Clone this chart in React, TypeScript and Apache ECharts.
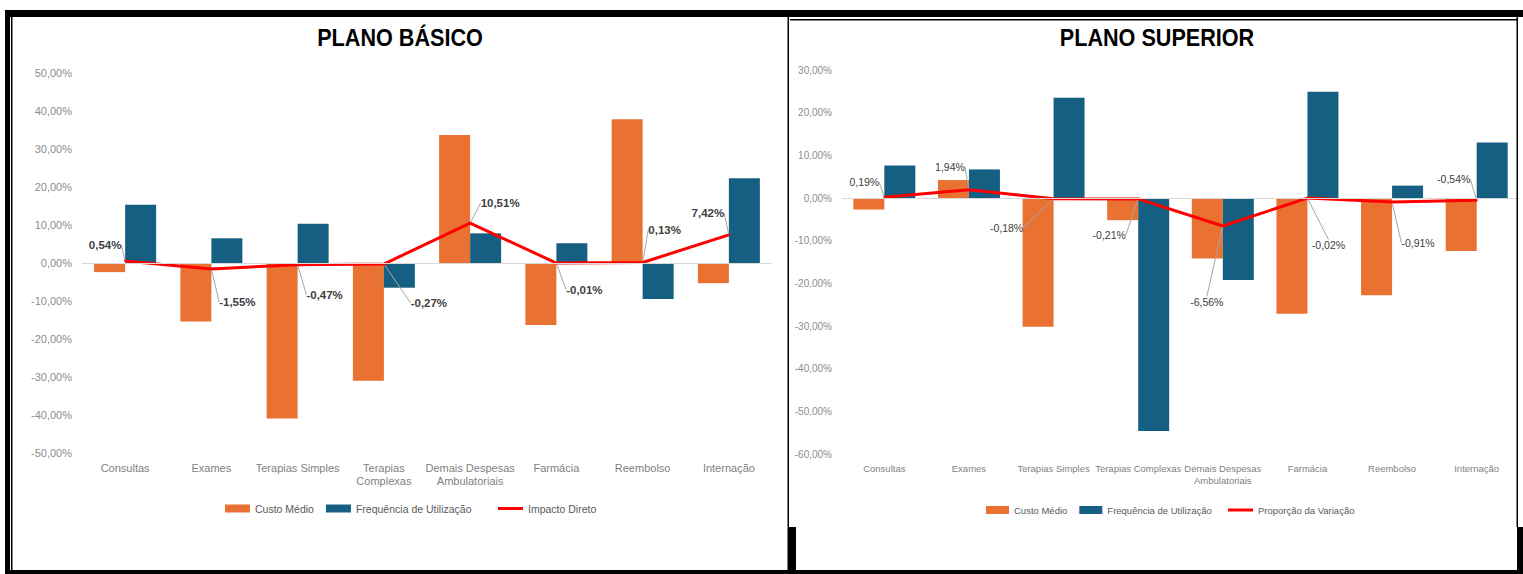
import React, { useEffect, useRef } from 'react';
import * as echarts from 'echarts';

// ---------- data ----------
const categoriesBasico = [
  'Consultas', 'Exames', 'Terapias Simples', 'Terapias\nComplexas',
  'Demais Despesas\nAmbulatoriais', 'Farmácia', 'Reembolso', 'Internação',
];
const categoriesSuperior = [
  'Consultas', 'Exames', 'Terapias Simples', 'Terapias Complexas',
  'Demais Despesas\nAmbulatoriais', 'Farmácia', 'Reembolso', 'Internação',
];

const basicoCustoMedio = [-2.4, -15.4, -40.9, -31.0, 33.7, -16.3, 37.8, -5.3];
const basicoFrequencia = [15.3, 6.5, 10.3, -6.5, 7.8, 5.2, -9.5, 22.3];
const basicoImpacto = [0.54, -1.55, -0.47, -0.27, 10.51, -0.01, 0.13, 7.42];

const superiorCustoMedio = [-2.7, 4.2, -30.2, -5.2, -14.2, -27.1, -22.8, -12.4];
const superiorFrequencia = [7.6, 6.7, 23.5, -54.6, -19.2, 24.9, 2.9, 13.0];
const superiorProporcao = [0.19, 1.94, -0.18, -0.21, -6.56, -0.02, -0.91, -0.54];

const seriesNames = ['Custo Médio', 'Frequência de Utilização'];
const lineNameBasico = 'Impacto Direto';
const lineNameSuperior = 'Proporção da Variação';

const yRangeBasico = { min: -50, max: 50, interval: 10 };
const yRangeSuperior = { min: -60, max: 30, interval: 10 };

// ---------- layout (label offsets from point, px) ----------
const labelOffsetsBasico = [
  [-20, -16], [26, 33], [27, 30], [45, 39], [30, -20], [28, 27], [22, -33], [-21, -22],
];
const labelOffsetsSuperior = [
  [-20, -15], [-19, -23], [-47, 29], [-29, 36], [-16, 76], [21, 47], [26, 41], [-23, -21],
];

const ORANGE = '#E97132';
const BLUE = '#156082';
const RED = '#FF0000';
const NARROW = "'Liberation Sans Narrow', 'Arial Narrow', 'Liberation Sans', Arial, sans-serif";
const SANS = "'Liberation Sans', Arial, sans-serif";

const fmt = (v: number) => v.toFixed(2).replace('.', ',') + '%';

function App() {
  const ref = useRef<HTMLDivElement>(null);

  useEffect(() => {
    if (!ref.current) return;
    const chart = echarts.init(ref.current, undefined, { renderer: 'svg' });

    const mkX = (gridIndex: number, cats: string[], fontSize: number, margin: number) => ({
      type: 'category',
      gridIndex,
      data: cats,
      axisLine: { show: false, onZero: false },
      axisTick: { show: false },
      axisLabel: {
        interval: 0,
        color: '#7f7f7f',
        fontFamily: SANS,
        fontSize,
        lineHeight: fontSize + 2.5,
        margin,
      },
      splitLine: { show: false },
    });

    const mkY = (gridIndex: number, r: any, fontSize: number) => ({
      type: 'value',
      gridIndex,
      min: r.min,
      max: r.max,
      interval: r.interval,
      axisLine: { show: false },
      axisTick: { show: false },
      splitLine: { show: false },
      axisLabel: {
        color: '#8c8c8c',
        fontFamily: SANS,
        fontSize,
        margin: 10,
        formatter: (v: number) => fmt(v),
      },
    });

    const zeroLine = {
      silent: true,
      symbol: 'none',
      label: { show: false },
      lineStyle: { color: '#d9d9d9', width: 1, type: 'solid' },
      data: [{ yAxis: 0 }],
    };

    const mkBars = (idx: number, custo: number[], freq: number[]) => [
      {
        name: seriesNames[0],
        type: 'bar',
        xAxisIndex: idx,
        yAxisIndex: idx,
        data: custo,
        barWidth: 31,
        barGap: '0%',
        itemStyle: { color: ORANGE },
        markLine: zeroLine,
        z: 2,
      },
      {
        name: seriesNames[1],
        type: 'bar',
        xAxisIndex: idx,
        yAxisIndex: idx,
        data: freq,
        barWidth: 31,
        barGap: '0%',
        itemStyle: { color: BLUE },
        z: 2,
      },
    ];

    const mkLine = (idx: number, name: string, data: number[], offsets: number[][], fontSize: number, weight: string) => ({
      name,
      type: 'line',
      xAxisIndex: idx,
      yAxisIndex: idx,
      data,
      symbol: 'circle',
      symbolSize: 2,
      itemStyle: { color: RED },
      lineStyle: { color: RED, width: 3 },
      z: 4,
      label: {
        show: true,
        position: 'inside',
        formatter: (p: any) => fmt(p.value),
        fontFamily: NARROW,
        fontWeight: weight,
        fontSize,
        color: '#404040',
      },
      labelLine: { show: true, lineStyle: { color: '#a6a6a6', width: 1 } },
      labelLayout: (p: any) => ({ dx: offsets[p.dataIndex][0], dy: offsets[p.dataIndex][1] }),
    });

    const legendText = { color: '#595959', fontFamily: SANS, fontSize: 11 };

    const border = (x: number, y: number, w: number, h: number) => ({
      type: 'rect',
      shape: { x, y, width: w, height: h },
      style: { fill: '#000' },
      silent: true,
      z: 100,
    });

    chart.setOption({
      animation: false,
      backgroundColor: '#ffffff',
      grid: [
        { left: 82, right: 751, top: 73, bottom: 121 },
        { left: 842, right: 4, top: 70, bottom: 120 },
      ],
      xAxis: [mkX(0, categoriesBasico, 11, 8), mkX(1, categoriesSuperior, 9.5, 8)],
      yAxis: [mkY(0, yRangeBasico, 11), mkY(1, yRangeSuperior, 10)],
      legend: [
        {
          data: seriesNames, left: 220, top: 498, icon: 'rect', itemWidth: 25, itemHeight: 8,
          itemGap: 12, textStyle: { ...legendText, fontSize: 10.5 }, selectedMode: false,
        },
        {
          data: [lineNameBasico], left: 493, top: 498, icon: 'rect', itemWidth: 25, itemHeight: 3,
          itemGap: 12, textStyle: { ...legendText, fontSize: 10.5 }, selectedMode: false,
        },
        {
          data: seriesNames, left: 981, top: 500, icon: 'rect', itemWidth: 23, itemHeight: 8,
          itemGap: 12, textStyle: { ...legendText, fontSize: 9.5 }, selectedMode: false,
        },
        {
          data: [lineNameSuperior], left: 1223, top: 500, icon: 'rect', itemWidth: 25, itemHeight: 3,
          itemGap: 12, textStyle: { ...legendText, fontSize: 9.5 }, selectedMode: false,
        },
      ],
      series: [
        ...mkBars(0, basicoCustoMedio, basicoFrequencia),
        mkLine(0, lineNameBasico, basicoImpacto, labelOffsetsBasico, 11.5, 'bold'),
        ...mkBars(1, superiorCustoMedio, superiorFrequencia),
        mkLine(1, lineNameSuperior, superiorProporcao, labelOffsetsSuperior, 10.5, 'normal'),
      ],
      graphic: [
        {
          type: 'text', x: 400, y: 38, scaleX: 0.9, silent: true,
          style: {
            text: 'PLANO BÁSICO', fill: '#000', fontFamily: NARROW, fontWeight: 'bold', fontSize: 24,
            textAlign: 'center', textVerticalAlign: 'middle',
          },
        },
        {
          type: 'text', x: 1157, y: 38, scaleX: 0.9, silent: true,
          style: {
            text: 'PLANO SUPERIOR', fill: '#000', fontFamily: NARROW, fontWeight: 'bold', fontSize: 24,
            textAlign: 'center', textVerticalAlign: 'middle',
          },
        },
        border(5, 10, 1518, 7),
        border(5, 10, 5, 564),
        border(11, 17, 1.5, 557),
        border(5, 570, 787, 4),
        border(787.5, 17, 1.5, 557),
        border(788, 527, 8, 47),
        border(790, 19, 727, 1.5),
        border(1516.5, 17, 1.5, 510),
        border(1517, 527, 6, 47),
        border(788, 570, 735, 4),
      ],
    });

    return () => chart.dispose();
  }, []);

  return (
    <div
      ref={ref}
      style={{ position: 'fixed', left: 0, top: 0, width: 1523, height: 574, background: '#fff' }}
    />
  );
}

export default App;
